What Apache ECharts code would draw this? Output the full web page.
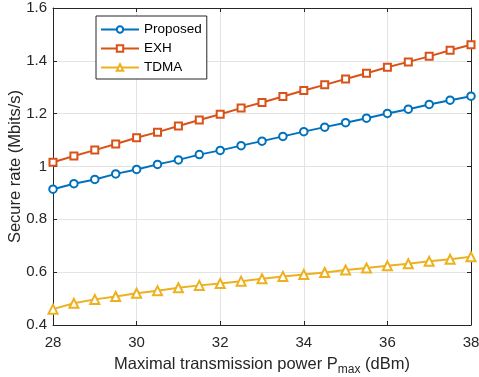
<!DOCTYPE html>
<html>
<head>
<meta charset="utf-8">
<script src="https://cdn.jsdelivr.net/npm/echarts@6/dist/echarts.min.js"></script>
<style>
  html, body { margin: 0; padding: 0; background: #fff; }
  #chart { width: 479px; height: 377px; }
</style>
</head>
<body>
<div id="chart"></div>
<script>
// transmit power (dBm)
var power = [28, 28.5, 29, 29.5, 30, 30.5, 31, 31.5, 32, 32.5, 33, 33.5, 34, 34.5, 35, 35.5, 36, 36.5, 37, 37.5, 38];
var proposed = [0.914, 0.935, 0.951, 0.972, 0.989, 1.008, 1.025, 1.045, 1.061, 1.079, 1.096, 1.114, 1.132, 1.149, 1.166, 1.183, 1.201, 1.217, 1.235, 1.251, 1.266];
var exh = [1.016, 1.040, 1.062, 1.085, 1.109, 1.130, 1.153, 1.176, 1.198, 1.221, 1.242, 1.265, 1.288, 1.309, 1.331, 1.353, 1.376, 1.396, 1.417, 1.440, 1.461];
var tdma = [0.460, 0.482, 0.497, 0.508, 0.520, 0.530, 0.541, 0.550, 0.557, 0.566, 0.575, 0.584, 0.591, 0.599, 0.608, 0.616, 0.624, 0.632, 0.641, 0.649, 0.658];
var xTicks = [28, 30, 32, 34, 36, 38];
var yTicks = [0.4, 0.6, 0.8, 1, 1.2, 1.4, 1.6];

var txt = "#262626";
var font = "Liberation Sans";

function pairs(ys) {
  return power.map(function (x, i) { return [x, ys[i]]; });
}

var myChart = echarts.init(document.getElementById("chart"), null, { renderer: "canvas" });

function boxAxis(pos, isX) {
  return {
    type: "value",
    position: pos,
    min: isX ? xTicks[0] : yTicks[0],
    max: isX ? xTicks[xTicks.length - 1] : yTicks[yTicks.length - 1],
    interval: isX ? 2 : 0.2,
    axisLine: { show: true, onZero: false, lineStyle: { color: txt, width: 1 } },
    axisTick: { show: true, inside: true, length: 4, lineStyle: { color: txt } },
    axisLabel: { show: false },
    splitLine: { show: false }
  };
}

var option = {
  backgroundColor: "#fff",
  animation: false,
  grid: { left: 53, right: 8, top: 8, bottom: 52, containLabel: false, outerBoundsMode: "none" },
  legend: {
    orient: "vertical",
    left: 96,
    top: 16,
    padding: [6, 5, 4, 4],
    itemWidth: 38,
    itemHeight: 8,
    itemGap: 4,
    itemTextGap: 4,
    borderColor: txt,
    borderWidth: 1,
    backgroundColor: "#fff",
    textStyle: { fontFamily: font, fontSize: 13.5, color: "#000", lineHeight: 15 },
    data: ["Proposed", "EXH", "TDMA"]
  },
  xAxis: [
    {
      type: "value",
      min: 28,
      max: 38,
      interval: 2,
      name: "Maximal transmission power P{sub|max} (dBm)",
      nameLocation: "middle",
      nameGap: 27,
      nameMoveOverlap: false,
      nameTextStyle: {
        fontFamily: font, fontSize: 16.5, color: txt,
        rich: { sub: { fontFamily: font, fontSize: 12, color: txt, padding: [12, 0, 0, 0] } }
      },
      axisLine: { show: true, onZero: false, lineStyle: { color: txt, width: 1 } },
      axisTick: { show: true, inside: true, length: 4, lineStyle: { color: txt } },
      axisLabel: { fontFamily: font, fontSize: 15, color: txt, margin: 10 },
      splitLine: { show: true, lineStyle: { color: "#e3e3e3", width: 1 } }
    },
    boxAxis("top", true)
  ],
  yAxis: [
    {
      type: "value",
      min: 0.4,
      max: 1.6,
      interval: 0.2,
      name: "Secure rate (Mbits/s)",
      nameLocation: "middle",
      nameGap: 29,
      nameMoveOverlap: false,
      nameTextStyle: { fontFamily: font, fontSize: 16.5, color: txt },
      axisLine: { show: true, onZero: false, lineStyle: { color: txt, width: 1 } },
      axisTick: { show: true, inside: true, length: 4, lineStyle: { color: txt } },
      axisLabel: {
        fontFamily: font, fontSize: 15, color: txt, margin: 6,
        formatter: function (v) { return String(Math.round(v * 10) / 10); }
      },
      splitLine: { show: true, lineStyle: { color: "#e3e3e3", width: 1 } }
    },
    boxAxis("right", false)
  ],
  series: [
    {
      name: "Proposed",
      type: "line",
      data: pairs(proposed),
      symbol: "emptyCircle",
      symbolSize: 7.5,
      color: "#0072BD",
      lineStyle: { width: 2 },
      itemStyle: { borderWidth: 2 },
      z: 4
    },
    {
      name: "EXH",
      type: "line",
      data: pairs(exh),
      symbol: "emptyRect",
      symbolSize: 7,
      color: "#D95319",
      lineStyle: { width: 2 },
      itemStyle: { borderWidth: 1.8 },
      z: 3
    },
    {
      name: "TDMA",
      type: "line",
      data: pairs(tdma),
      symbol: "emptyTriangle",
      symbolSize: 9,
      color: "#EDB120",
      lineStyle: { width: 2 },
      itemStyle: { borderWidth: 1.8 },
      z: 2
    }
  ]
};

myChart.setOption(option);
</script>
</body>
</html>
